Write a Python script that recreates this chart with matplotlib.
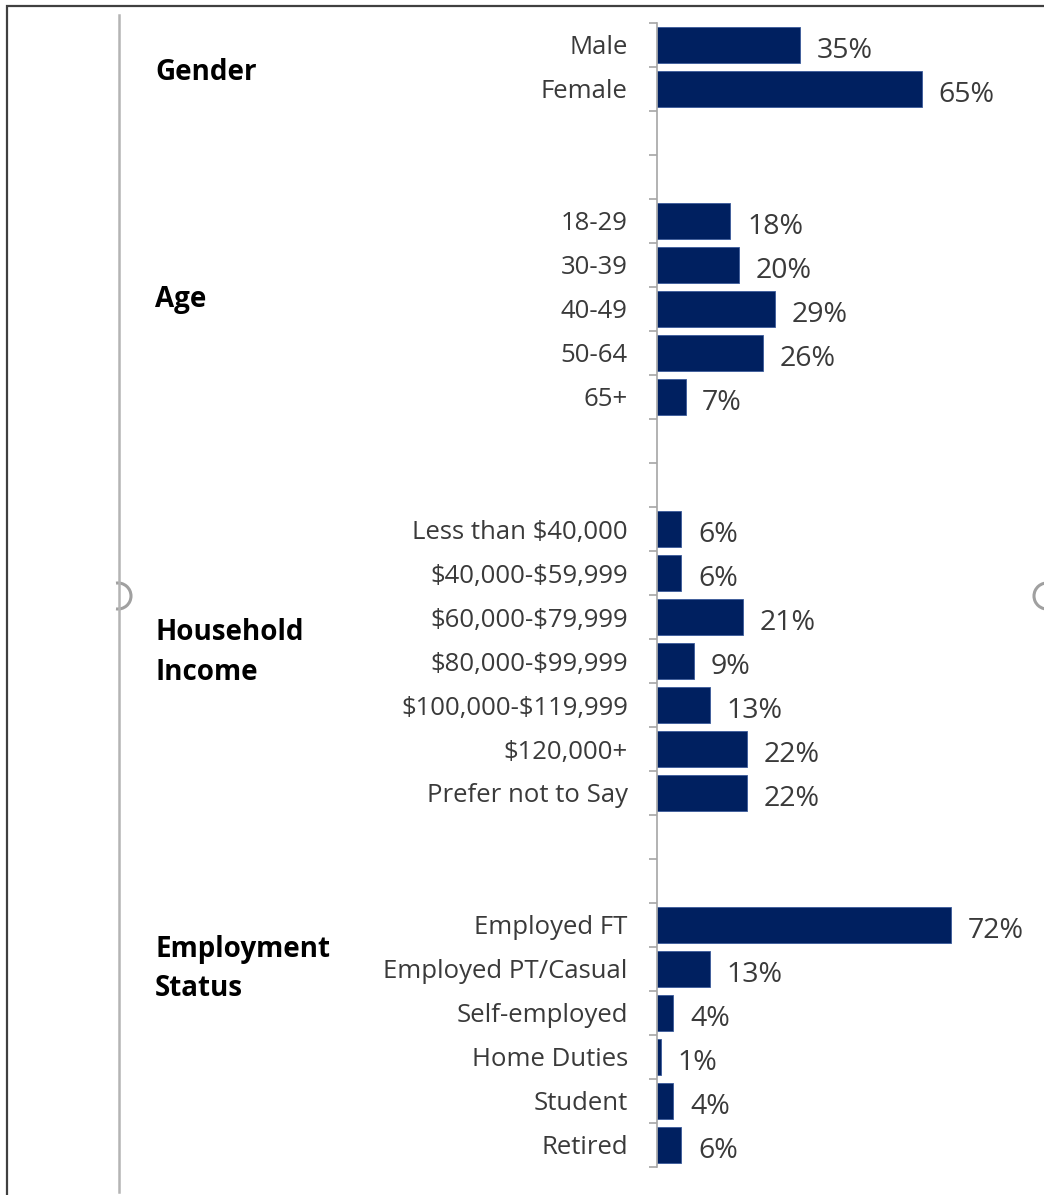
import matplotlib
matplotlib.use("Agg")
import matplotlib.pyplot as plt
from matplotlib.lines import Line2D
from matplotlib.patches import Arc, Rectangle

plt.rcParams["text.parse_math"] = False
plt.rcParams["font.family"] = ["Open Sans", "DejaVu Sans"]

W, H = 1044, 1195

# survey breakdown, one list per group, top to bottom
gender_labels = ["Male", "Female"]
gender_values = [35, 65]

age_labels = ["18-29", "30-39", "40-49", "50-64", "65+"]
age_values = [18, 20, 29, 26, 7]

income_labels = ["Less than $40,000", "$40,000-$59,999", "$60,000-$79,999",
                 "$80,000-$99,999", "$100,000-$119,999", "$120,000+",
                 "Prefer not to Say"]
income_values = [6, 6, 21, 9, 13, 22, 22]

employment_labels = ["Employed FT", "Employed PT/Casual", "Self-employed",
                     "Home Duties", "Student", "Retired"]
employment_values = [72, 13, 4, 1, 4, 6]

group_titles = ["Gender", "Age", "Household\nIncome", "Employment\nStatus"]
group_title_y = [72, 299, 652, 969]   # pixel rows for the bold headings

groups = [(gender_labels, gender_values), (age_labels, age_values),
          (income_labels, income_values), (employment_labels, employment_values)]

# lay the rows out with two empty slots between groups
labels, values, rows = [], [], []
slot = 0
for i, (g_lab, g_val) in enumerate(groups):
    if i > 0:
        slot += 2
    for lab, val in zip(g_lab, g_val):
        labels.append(lab)
        values.append(val)
        rows.append(slot + 0.5)
        slot += 1
n_slots = slot

bar_color = "#002060"
text_color = "#3a3a3a"

fig = plt.figure(figsize=(W / 100, H / 100), dpi=100)

# plot area in pixels: left edge 657, top 23, bottom 1167
ax_left, ax_top, ax_bottom, ax_right = 657, 23, 1167, 1000
ax = fig.add_axes([ax_left / W, 1 - ax_bottom / H,
                   (ax_right - ax_left) / W, (ax_bottom - ax_top) / H])

px_per_pct = 4.08
ax.set_xlim(0, (ax_right - ax_left) / px_per_pct)
ax.set_ylim(n_slots, 0)

ax.barh(rows, values, height=0.8, color=bar_color,
        edgecolor="#3a5a9a", linewidth=0.6)

for r, v in zip(rows, values):
    ax.annotate(f"{v}%", (v, r), xytext=(12, -4), textcoords="offset points",
                ha="left", va="center", fontsize=20.5, color=text_color)

ax.set_yticks(rows)
ax.set_yticklabels(labels, fontsize=18.5, color=text_color)
ax.set_yticks(range(n_slots + 1), minor=True)
ax.tick_params(axis="y", which="major", length=0, pad=21)
ax.tick_params(axis="y", which="minor", length=6, width=1.2, color="#a6a6a6",
               direction="out")
ax.set_xticks([])
for s in ["top", "right", "bottom"]:
    ax.spines[s].set_visible(False)
ax.spines["left"].set_color("#a6a6a6")
ax.spines["left"].set_linewidth(1.2)

for title, ty in zip(group_titles, group_title_y):
    fig.text(155 / W, 1 - ty / H, title, ha="left", va="center",
             fontsize=20, fontweight="bold", color="black",
             linespacing=1.5)

# frame and the gray guide line with its handles
fig.add_artist(Rectangle((7 / W, -0.05), 1.1, 1 - 6 / H + 0.05,
                         transform=fig.transFigure, fill=False,
                         edgecolor="#404040", linewidth=1.6))
fig.add_artist(Line2D([118.5 / W, 118.5 / W], [1 - 15 / H, 1 - 1192 / H],
                      transform=fig.transFigure, color="#b4b4b4", linewidth=1.8))
fig.add_artist(Arc((118 / W, 1 - 596 / H), 26 / W, 26 / H, theta1=-100, theta2=100,
                   transform=fig.transFigure, color="#a0a0a0", linewidth=2.2))
fig.add_artist(Arc((1047 / W, 1 - 596 / H), 26 / W, 26 / H, theta1=80, theta2=280,
                   transform=fig.transFigure, color="#a0a0a0", linewidth=2.2))

fig.savefig("out.png", dpi=100, facecolor="white")
